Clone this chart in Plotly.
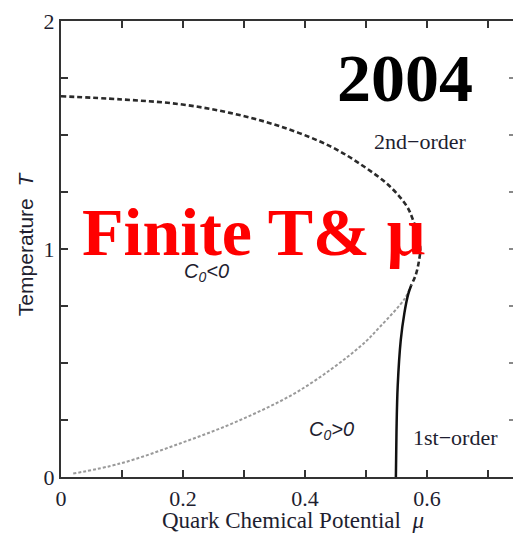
import plotly.graph_objects as go

# Phase boundaries in the (mu, T) plane
mu_second = [0.0, 0.10, 0.195, 0.277, 0.359, 0.441, 0.496, 0.539, 0.567, 0.577, 0.586, 0.589, 0.587, 0.582, 0.574]
T_second = [1.67, 1.656, 1.635, 1.597, 1.538, 1.451, 1.363, 1.275, 1.187, 1.128, 1.05, 1.0, 0.95, 0.89, 0.84]

mu_first = [0.549, 0.550, 0.552, 0.557, 0.563, 0.569, 0.574]
T_first = [0.0, 0.2, 0.4, 0.6, 0.72, 0.80, 0.84]

# C0 = 0 line separating the two signs of C0
mu_c0 = [0.020, 0.097, 0.195, 0.293, 0.392, 0.490, 0.523, 0.564, 0.572]
T_c0 = [0.015, 0.059, 0.147, 0.249, 0.381, 0.571, 0.659, 0.784, 0.83]

x_ticks = [0.0, 0.1, 0.2, 0.3, 0.4, 0.5, 0.6, 0.7]
x_labels = ["0", "", "0.2", "", "0.4", "", "0.6", ""]
y_ticks = [0.0, 0.25, 0.5, 0.75, 1.0, 1.25, 1.5, 1.75, 2.0]
y_labels = ["0", "", "", "", "1", "", "", "", "2"]

SERIF = "Liberation Serif, Times New Roman, serif"
SANS = "Liberation Sans, Arial, sans-serif"
TXT = "#1e1e30"

fig = go.Figure()
fig.add_trace(go.Scatter(x=mu_c0, y=T_c0, mode="lines", line_shape="spline",
                         line=dict(color="#9a9a9a", width=2, dash="3px,2px"),
                         showlegend=False, hoverinfo="skip"))
fig.add_trace(go.Scatter(x=mu_second, y=T_second, mode="lines", line_shape="spline",
                         line=dict(color="#2a2a2a", width=2.6, dash="5px,3px"),
                         showlegend=False, hoverinfo="skip"))
fig.add_trace(go.Scatter(x=mu_first, y=T_first, mode="lines", line_shape="spline",
                         line=dict(color="#111111", width=2.5),
                         showlegend=False, hoverinfo="skip"))
# right-hand tick marks
fig.add_trace(go.Scatter(x=[None], y=[None], yaxis="y2", showlegend=False, hoverinfo="skip"))

fig.update_layout(
    width=513, height=534,
    margin=dict(l=61, r=0, t=21, b=57),
    paper_bgcolor="white", plot_bgcolor="white",
    xaxis=dict(range=[0, 0.741], tickvals=x_ticks, ticktext=x_labels,
               ticks="inside", ticklen=7, tickwidth=2, tickcolor="#333",
               showline=True, linewidth=2.2, linecolor="#333", mirror="ticks",
               showgrid=False, zeroline=False,
               tickfont=dict(family=SERIF, size=22, color=TXT)),
    yaxis=dict(range=[0, 2], tickvals=y_ticks, ticktext=y_labels,
               ticks="inside", ticklen=7, tickwidth=2, tickcolor="#333",
               showline=True, linewidth=2.2, linecolor="#333",
               showgrid=False, zeroline=False,
               tickfont=dict(family=SERIF, size=22, color=TXT)),
    yaxis2=dict(range=[0, 2], tickvals=y_ticks, overlaying="y", side="right",
                ticks="inside", ticklen=4, tickwidth=1.5, tickcolor="#888",
                showline=False, showgrid=False, zeroline=False, showticklabels=False),
    annotations=[
        dict(xref="paper", yref="paper", x=0.513, y=-0.095, xanchor="center", yanchor="middle",
             text="Quark Chemical Potential  <i>μ</i>", showarrow=False,
             font=dict(family=SERIF, size=23, color=TXT)),
        dict(xref="paper", yref="paper", x=-0.080, y=0.5125, xanchor="center", yanchor="middle",
             text="Temperature  <i>T</i>", showarrow=False, textangle=-90,
             font=dict(family=SANS, size=21, color=TXT)),
        dict(x=0.589, y=1.47, text="2nd−order", showarrow=False,
             font=dict(family=SERIF, size=22, color=TXT)),
        dict(x=0.646, y=0.175, text="1st−order", showarrow=False,
             font=dict(family=SERIF, size=22, color=TXT)),
        dict(x=0.238, y=0.895, text="<i>C</i><sub><i>0</i></sub><i>&lt;0</i>", showarrow=False,
             font=dict(family=SANS, size=20, color=TXT)),
        dict(x=0.443, y=0.205, text="<i>C</i><sub><i>0</i></sub><i>&gt;0</i>", showarrow=False,
             font=dict(family=SANS, size=20, color=TXT)),
        dict(x=0.564, y=1.75, text="<b>2004</b>", showarrow=False,
             font=dict(family=SERIF, size=68, color="black")),
        dict(x=0.315, y=1.075, text="<b>Finite T&amp; μ</b>", showarrow=False,
             font=dict(family=SERIF, size=68, color="#ff0000")),
    ],
)

fig.write_html("out.html")
